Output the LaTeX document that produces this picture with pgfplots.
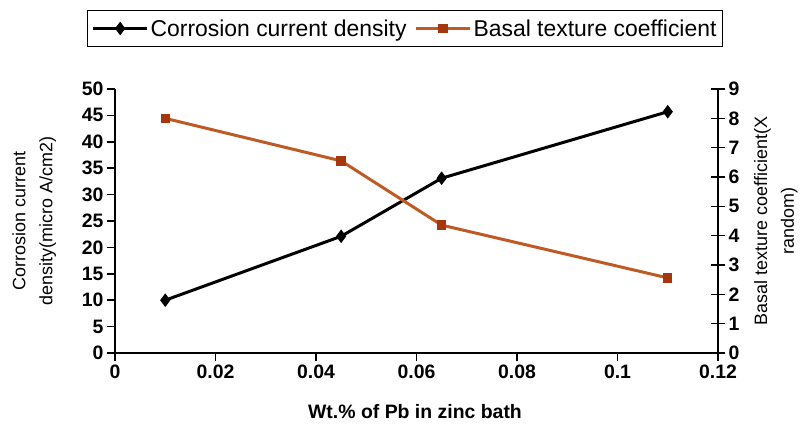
\documentclass[border=0pt]{standalone}
\usepackage{fontspec}
\setmainfont{Liberation Sans}
\usepackage{pgfplots}
\pgfplotsset{compat=1.18}
\definecolor{brline}{RGB}{190,90,35}
\definecolor{brmark}{RGB}{165,55,15}
\begin{document}
\begin{tikzpicture}
\useasboundingbox (-115bp,-77bp) rectangle (691bp,353bp);
\begin{axis}[
  scale only axis, width=603bp, height=264bp,
  at={(0,0)}, anchor=south west,
  xmin=0, xmax=0.12, ymin=0, ymax=50,
  xtick={0,0.02,...,0.12}, ytick={0,5,...,50},
  axis x line*=bottom, axis y line*=left,
  axis line style={line width=1.6pt, -},
  tick style={line width=1.6pt, black},
  tick align=outside, major tick length=8bp,
  /pgf/number format/assume math mode=true,
  tick label style={font=\bfseries\fontsize{19.5}{19.5}\selectfont},
  xticklabels={0,0.02,0.04,0.06,0.08,0.1,0.12},
  xlabel={Wt.\% of Pb in zinc bath},
  xlabel style={font=\bfseries\fontsize{19.5}{19.5}\selectfont, at={(axis description cs:0.4975,-0.223)}, anchor=center},
  ylabel={Corrosion current\\density(micro A/cm2)},
  ylabel style={font=\fontsize{18}{27}\selectfont, align=center, at={(axis description cs:-0.134,0.5)}, anchor=center},
  legend columns=2,
  legend style={at={(0.481,1.30)}, anchor=north, draw=black, line width=1.3pt,
    font=\fontsize{23}{23}\selectfont, inner xsep=4bp, inner ysep=7bp,
    /tikz/every even column/.append style={column sep=6bp}},
  legend cell align=left,
  legend image code/.code={\draw[mark repeat=2, mark phase=2] plot coordinates {(0bp,0bp) (27bp,0bp) (54bp,0bp)};},
]
\addplot[black, line width=3pt, mark=diamond*, mark size=6bp, mark options={solid, fill=black, line width=1pt}]
  coordinates {(0.01,10.0) (0.045,22.1) (0.065,33.1) (0.11,45.7)};
\addlegendentry{Corrosion current density}
\addlegendimage{brline, line width=3pt, mark=square*, mark size=4.2bp, mark options={fill=brmark, draw=brmark, line width=1pt}}
\addlegendentry{Basal texture coefficient}
\end{axis}
\begin{axis}[
  scale only axis, width=603bp, height=264bp,
  at={(0,0)}, anchor=south west,
  xmin=0, xmax=0.12, ymin=0, ymax=9,
  ytick={0,1,...,9},
  axis x line=none, axis y line*=right,
  axis line style={line width=1.6pt, -},
  tick style={line width=1.6pt, black},
  tick align=center, major tick length=14bp,
  /pgf/number format/assume math mode=true,
  tick label style={font=\bfseries\fontsize{19.5}{19.5}\selectfont},
  ylabel={Basal texture coefficient(X\\random)},
  ylabel style={font=\fontsize{18}{27}\selectfont, align=center, at={(axis description cs:1.096,0.5)}, anchor=center},
]
\addplot[brline, line width=3pt, mark=square*, mark size=4.2bp, mark options={solid, fill=brmark, draw=brmark, line width=1pt}]
  coordinates {(0.01,8.0) (0.045,6.55) (0.065,4.36) (0.11,2.56)};
\end{axis}
\end{tikzpicture}
\end{document}
